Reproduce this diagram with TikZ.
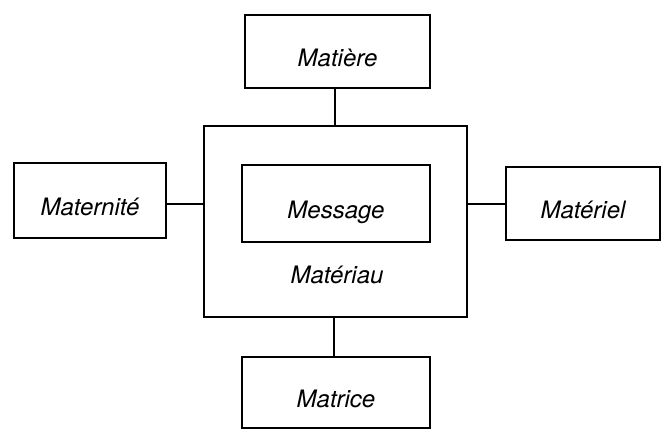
\documentclass[tikz,border=0pt]{standalone}
\usepackage{fontspec}
\setmainfont{TeX Gyre Heros}
\begin{document}
\begin{tikzpicture}[x=1pt,y=-1pt,
  lw/.style={line width=2pt},
  box/.style={lw,draw,rectangle,inner sep=0pt,font=\fontsize{24}{28}\selectfont\itshape,text height=30pt,text depth=0pt},
  lbl/.style={inner sep=0pt,font=\fontsize{24}{28}\selectfont\itshape}]
\useasboundingbox (0,0) rectangle (664,437);
\node[box,minimum width=185pt,minimum height=73pt] (matiere) at (337.5,51.5) {Matière};
\node[lw,draw,rectangle,minimum width=263pt,minimum height=191pt] (materiau) at (335.5,221.5) {};
\node[box,minimum width=188pt,minimum height=77pt] (message) at (336,203.5) {Message};
\node[lbl,anchor=base] (materiaulbl) at (337,283) {Matériau};
\node[box,minimum width=152pt,minimum height=75pt] (maternite) at (90,200.5) {Maternité};
\node[box,minimum width=154pt,minimum height=73pt] (materiel) at (583,203.5) {Matériel};
\node[box,minimum width=188pt,minimum height=71pt] (matrice) at (336,392.5) {Matrice};
\draw[lw] (matiere.south -| 335,0) -- (materiau.north -| 335,0);
\draw[lw] (materiau.south -| 334,0) -- (matrice.north -| 334,0);
\draw[lw] (maternite.east |- 0,204) -- (materiau.west |- 0,204);
\draw[lw] (materiau.east |- 0,204) -- (materiel.west |- 0,204);
\end{tikzpicture}
\end{document}
